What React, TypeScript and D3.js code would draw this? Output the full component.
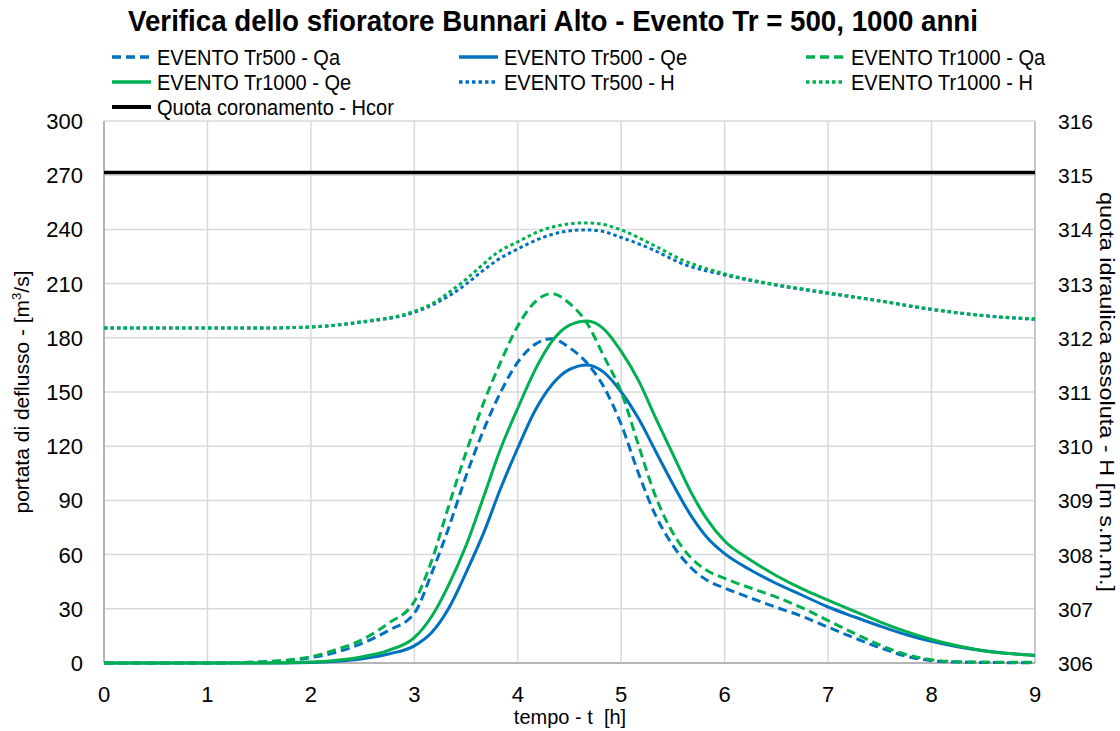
import React from "react";
import * as d3 from "d3";

const TIMES = [0, 0.5, 1, 1.5, 2, 2.25, 2.5, 2.75, 3.0, 3.17, 3.33, 3.5, 3.67, 3.83, 4.0, 4.17, 4.33, 4.5, 4.67, 4.83, 5.0, 5.17, 5.33, 5.5, 5.67, 5.83, 6.0, 6.25, 6.5, 6.75, 7.0, 7.25, 7.5, 7.75, 8.0, 8.25, 8.5, 8.75, 9.0];

const QA_TR500 = [0, 0, 0, 0.5, 3, 6, 11, 18, 27.5, 50, 74.5, 103.5, 129, 149.4, 166.5, 176.5, 179.5, 174.5, 166, 153, 132, 104.5, 82, 65, 53, 45.8, 41.5, 36, 30.8, 25.8, 19.8, 14, 8.5, 3.8, 1.3, 0.5, 0.3, 0.2, 0.2];
const QE_TR500 = [0, 0, 0, 0, 0.3, 1, 2.4, 5, 9.5, 17, 30, 50, 72, 96, 119, 140, 154, 162.5, 165, 161, 150, 135, 117.5, 99, 82, 69.5, 60.5, 51.5, 44, 37.5, 31, 25.6, 20.5, 15.8, 12, 9, 6.8, 5.3, 4.2];
const QA_TR1000 = [0, 0, 0, 0.6, 3.5, 7.5, 13, 22, 34, 57, 86.5, 116.5, 144, 166, 186.5, 200, 204.5, 199, 188, 170, 150, 120, 92.5, 72, 58.5, 51.2, 46.8, 41.5, 36.5, 30.5, 23.5, 16.5, 10, 4.8, 1.8, 0.7, 0.5, 0.4, 0.4];
const QE_TR1000 = [0, 0, 0, 0, 0.5, 1.5, 3.5, 7, 14, 26, 43, 65, 92, 118, 141, 162.5, 178, 187, 189.3, 185, 172.5, 156, 136, 115.5, 95, 79.5, 67.5, 57, 48.3, 41, 34.8, 28.7, 22.8, 17.5, 13, 9.5, 6.8, 5.2, 4.3];

const H_TIMES = [0, 1, 1.5, 2, 2.5, 3, 3.2, 3.35, 3.5, 3.65, 3.8, 4.0, 4.2, 4.45, 4.65, 4.8, 5.0, 5.3, 5.6, 6.0, 6.5, 7.0, 7.5, 8.0, 8.5, 9.0];
const H_TR500 = [312.18, 312.18, 312.18, 312.2, 312.29, 312.47, 312.63, 312.79, 312.99, 313.22, 313.43, 313.64, 313.82, 313.96, 313.99, 313.97, 313.85, 313.63, 313.36, 313.16, 312.97, 312.82, 312.68, 312.52, 312.41, 312.34];
const H_TR1000 = [312.18, 312.18, 312.18, 312.2, 312.3, 312.49, 312.66, 312.86, 313.08, 313.33, 313.57, 313.77, 313.96, 314.09, 314.12, 314.1, 313.99, 313.72, 313.43, 313.18, 312.98, 312.83, 312.68, 312.53, 312.41, 312.35];

const HCOR_TIMES = [0, 9];
const HCOR = [315.05, 315.05];

const X_TICKS = [0, 1, 2, 3, 4, 5, 6, 7, 8, 9];
const Y_TICKS = [0, 30, 60, 90, 120, 150, 180, 210, 240, 270, 300];
const YR_TICKS = [306, 307, 308, 309, 310, 311, 312, 313, 314, 315, 316];

const TITLE = "Verifica dello sfioratore Bunnari Alto - Evento Tr = 500, 1000 anni";
const X_LABEL = "tempo - t  [h]";
const Y_LABEL = "portata di deflusso - [m";
const YR_LABEL = "quota idraulica assoluta - H [m s.m.m.]";

const BLUE = "#0070C0";
const GREEN = "#00B050";

type Series = {
  name: string;
  t: number[];
  v: number[];
  axis: "L" | "R";
  color: string;
  dash: string | null;
  width: number;
};

const SERIES: Series[] = [
  { name: "EVENTO Tr500 - Qa", t: TIMES, v: QA_TR500, axis: "L", color: BLUE, dash: "9 5", width: 3 },
  { name: "EVENTO Tr500 - Qe", t: TIMES, v: QE_TR500, axis: "L", color: BLUE, dash: null, width: 3 },
  { name: "EVENTO Tr1000 - Qa", t: TIMES, v: QA_TR1000, axis: "L", color: GREEN, dash: "9 5", width: 3 },
  { name: "EVENTO Tr1000 - Qe", t: TIMES, v: QE_TR1000, axis: "L", color: GREEN, dash: null, width: 3 },
  { name: "EVENTO Tr500 - H", t: H_TIMES, v: H_TR500, axis: "R", color: BLUE, dash: "3.5 3", width: 3 },
  { name: "EVENTO Tr1000 - H", t: H_TIMES, v: H_TR1000, axis: "R", color: GREEN, dash: "3.5 3", width: 3 },
  { name: "Quota coronamento - Hcor", t: HCOR_TIMES, v: HCOR, axis: "R", color: "#000000", dash: null, width: 3.5 },
];

export default function App() {
  const W = 1120;
  const H = 731;
  const left = 104, right = 1035, top = 121, bottom = 663;
  const x = d3.scaleLinear().domain([0, 9]).range([left, right]);
  const y = d3.scaleLinear().domain([0, 300]).range([bottom, top]);
  const yR = d3.scaleLinear().domain([306, 316]).range([bottom, top]);
  const font = "'Liberation Sans', Arial, sans-serif";

  const legendCols = [112, 459, 806];
  const legendRows = [57, 82, 107];

  return (
    <svg width={W} height={H} style={{ position: "absolute", left: 0, top: 0, background: "#fff" }} fontFamily={font}>
      <rect x={0} y={0} width={W} height={H} fill="#fff" />
      {Y_TICKS.map((v) => (
        <line key={"gy" + v} x1={left} x2={right} y1={y(v)} y2={y(v)} stroke="#d9d9d9" strokeWidth={1.5} />
      ))}
      {X_TICKS.map((v) => (
        <line key={"gx" + v} x1={x(v)} x2={x(v)} y1={top} y2={bottom} stroke="#d9d9d9" strokeWidth={1.5} />
      ))}
      <line x1={left} x2={left} y1={top} y2={bottom} stroke="#a6a6a6" strokeWidth={1.5} />
      <line x1={right} x2={right} y1={top} y2={bottom} stroke="#bfbfbf" strokeWidth={1.5} />
      <line x1={left} x2={right} y1={bottom} y2={bottom} stroke="#a6a6a6" strokeWidth={1.5} />

      {SERIES.map((s) => {
        const ys = s.axis === "L" ? y : yR;
        const pts: [number, number][] = s.t.map((t, i) => [x(t), ys(s.v[i])]);
        const path = d3.line().curve(d3.curveMonotoneX)(pts) || "";
        return (
          <path key={s.name} d={path} fill="none" stroke={s.color} strokeWidth={s.width}
            strokeDasharray={s.dash || undefined} strokeLinejoin="round" />
        );
      })}

      {Y_TICKS.map((v) => (
        <text key={"ly" + v} x={83} y={y(v) + 8} fontSize={22} textAnchor="end" fill="#000">{v}</text>
      ))}
      {YR_TICKS.map((v) => (
        <text key={"ry" + v} x={1058} y={yR(v) + 8} fontSize={21} textAnchor="start" fill="#000">{v}</text>
      ))}
      {X_TICKS.map((v) => (
        <text key={"tx" + v} x={x(v)} y={702} fontSize={22} textAnchor="middle" fill="#000">{v}</text>
      ))}

      <text x={570} y={724} fontSize={20} textAnchor="middle" style={{ whiteSpace: "pre" }}>{X_LABEL}</text>
      <text transform={`translate(29, ${(top + bottom) / 2}) rotate(-90)`} fontSize={21} textAnchor="middle">
        {Y_LABEL}
        <tspan fontSize={13} dy={-8}>3</tspan>
        <tspan dy={8}>/s]</tspan>
      </text>
      <text transform={`translate(1100, ${(top + bottom) / 2}) rotate(90)`} fontSize={21} textAnchor="middle"
        textLength={400} lengthAdjust="spacingAndGlyphs">
        {YR_LABEL}
      </text>

      <text x={553} y={31} fontSize={30} fontWeight="bold" textAnchor="middle" textLength={850} lengthAdjust="spacingAndGlyphs">
        {TITLE}
      </text>

      {SERIES.map((s, i) => {
        const cx = legendCols[i % 3];
        const cy = legendRows[Math.floor(i / 3)];
        return (
          <g key={"lg" + s.name}>
            <line x1={cx} x2={cx + 39} y1={cy} y2={cy} stroke={s.color} strokeWidth={s.width + 0.5}
              strokeDasharray={s.dash || undefined} />
            <text transform={`translate(${cx + 45}, ${cy + 8}) scale(0.91,1)`} fontSize={22}>{s.name}</text>
          </g>
        );
      })}
    </svg>
  );
}
